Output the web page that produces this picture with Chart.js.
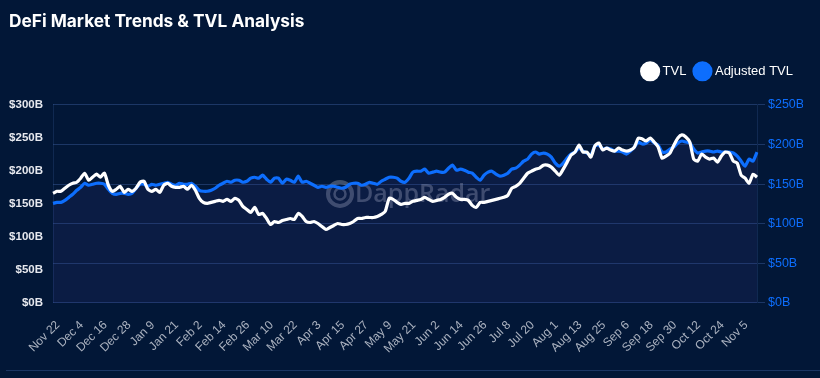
<!DOCTYPE html>
<html>
<head>
<meta charset="utf-8">
<script src="https://cdn.jsdelivr.net/npm/chart.js@4.4.1/dist/chart.umd.min.js"></script>
<style>
  html, body { margin:0; padding:0; background:#021737; }
  #wrap { position:relative; width:820px; height:378px; background:#021737; overflow:hidden; }
  #wrap canvas { position:absolute; left:0; top:0; }
  #rule { position:absolute; left:6px; right:0; top:370px; height:1px; background:#1b3563; }
</style>
</head>
<body>
<div id="wrap">
  <canvas id="tvlChart" width="820" height="378"></canvas>
  <div id="rule"></div>
</div>
<script>
/* Daily samples every 2 days, Nov 22 2022 -> Nov 13 2023 */
const START_DATE = new Date(2022, 10, 22);
const STEP_DAYS = 2;
const LABEL_EVERY = 6; // one tick label per 12 days

// TVL, $B (left axis)
const tvl = [
  166.0,169.0,169.0,173.6,178.2,181.2,182.7,188.8,196.4,185.8,
  190.4,194.9,190.4,196.4,178.2,169.0,172.1,176.6,167.5,172.1,
  169.0,173.6,182.7,184.3,172.1,169.0,172.1,167.5,178.2,181.2,
  176.6,175.1,175.1,176.6,172.1,178.2,170.6,158.4,152.3,150.8,
  152.3,153.8,155.3,153.8,156.8,153.8,158.4,155.3,146.2,141.6,
  137.1,144.7,134.0,135.5,127.9,118.8,123.3,121.8,124.9,126.4,
  127.9,126.4,135.5,131.0,123.3,121.8,123.3,120.3,115.7,111.2,
  114.2,117.3,120.3,118.8,118.8,120.3,123.3,127.9,127.9,129.4,
  129.4,129.4,131.0,134.0,138.6,158.4,156.8,152.3,149.2,150.8,
  150.8,153.8,155.3,156.8,159.9,156.8,153.8,155.3,156.8,159.9,
  164.5,166.0,159.9,156.8,156.8,155.3,147.7,144.7,152.3,152.3,
  153.8,155.3,156.8,158.4,159.9,162.9,173.6,176.6,181.2,188.8,
  196.4,199.5,202.5,204.1,208.6,208.6,205.6,199.5,193.4,202.5,
  213.2,223.9,228.4,239.1,228.4,228.4,220.8,237.6,242.1,231.5,
  234.5,231.5,229.9,234.5,231.5,229.9,231.5,236.0,249.7,248.2,
  245.2,249.7,243.6,236.0,219.3,222.3,226.9,239.1,249.7,254.3,
  251.3,243.6,217.8,214.7,225.4,220.8,217.8,219.3,213.2,222.3,
  228.4,226.9,214.7,211.7,193.4,188.8,181.2,194.9,190.4
];

// Adjusted TVL, $B (right axis)
const adjustedTvl = [
  125.6,126.9,126.9,129.4,133.2,137.1,142.1,145.9,151.0,148.5,
  149.7,151.0,151.0,149.7,143.4,138.3,137.1,138.3,138.3,137.1,
  138.3,144.7,149.7,149.7,147.2,149.7,148.5,149.7,151.0,152.3,
  149.7,148.5,151.0,149.7,149.7,151.0,147.2,142.1,140.9,140.9,
  142.1,144.7,148.5,151.0,153.5,152.3,154.8,154.8,152.3,153.5,
  157.4,158.6,157.4,161.2,156.1,152.3,157.4,157.4,151.0,156.1,
  154.8,152.3,159.9,152.3,153.5,151.0,148.5,145.9,147.2,145.9,
  147.2,147.2,145.9,144.7,145.9,149.7,151.0,151.0,148.5,149.7,
  152.3,151.0,149.7,153.5,156.1,158.6,158.6,157.4,153.5,152.3,
  157.4,165.0,166.2,166.2,168.8,163.7,165.0,166.2,165.0,165.0,
  170.0,173.9,167.5,168.8,167.5,165.0,163.7,158.6,154.8,161.2,
  165.0,166.2,162.4,159.9,161.2,163.7,168.8,170.0,173.9,178.9,
  181.5,187.8,190.4,187.8,189.1,187.8,184.0,176.4,172.6,176.4,
  182.7,187.8,190.4,195.4,191.6,189.1,186.5,198.0,199.2,194.2,
  195.4,194.2,191.6,191.6,190.4,187.8,191.6,196.7,203.0,200.5,
  201.8,205.6,201.8,199.2,190.4,190.4,194.2,196.7,201.8,204.3,
  203.0,201.8,194.2,189.1,190.4,191.6,191.6,190.4,191.6,190.4,
  190.4,190.4,189.1,185.3,178.9,172.6,181.5,178.9,190.4
];

const leftTicks = [0, 50, 100, 150, 200, 250, 300];
const rightTicks = [0, 50, 100, 150, 200, 250];

const MONTHS = ["Jan","Feb","Mar","Apr","May","Jun","Jul","Aug","Sep","Oct","Nov","Dec"];
const dates = tvl.map((_, i) => {
  const d = new Date(START_DATE.getTime());
  d.setDate(d.getDate() + i * STEP_DAYS);
  return MONTHS[d.getMonth()] + " " + d.getDate();
});

const BLUE = "#0d6efd";
const GRID = "rgba(60,95,160,0.45)";

// faint DappRadar mark in the middle of the plot
const watermark = {
  id: "watermark",
  beforeDatasetsDraw(chart){
    const {ctx, chartArea:a} = chart;
    const cx = (a.left + a.right) / 2, cy = a.top + (a.bottom - a.top) * 0.45;
    ctx.save();
    ctx.fillStyle = "rgba(140,150,170,0.45)";
    ctx.strokeStyle = "rgba(140,150,170,0.45)";
    ctx.font = "600 25px 'Open Sans'";
    ctx.textBaseline = "middle";
    ctx.textAlign = "left";
    ctx.fillText("DappRadar", cx - 50, cy + 1);
    ctx.lineWidth = 4;
    ctx.beginPath(); ctx.arc(cx - 65, cy, 12, 0, Math.PI * 2); ctx.stroke();
    ctx.lineWidth = 2.5;
    ctx.beginPath(); ctx.arc(cx - 65, cy, 5.5, 0, Math.PI * 2); ctx.stroke();
    ctx.restore();
  }
};

// extra room under the legend
const legendGap = {
  id: "legendGap",
  beforeInit(chart){
    const fit = chart.legend.fit;
    chart.legend.fit = function(){ fit.call(this); this.height += 17; };
  }
};

Chart.defaults.font.family = "'Liberation Sans', Arial, sans-serif";

new Chart(document.getElementById("tvlChart"), {
  type: "line",
  data: {
    labels: dates,
    datasets: [
      { label: "TVL", data: tvl, yAxisID: "y", borderColor: "#ffffff", backgroundColor: "#ffffff",
        borderWidth: 3.2, tension: 0.2, pointRadius: 0, fill: false },
      { label: "Adjusted TVL", data: adjustedTvl, yAxisID: "y1", borderColor: BLUE, backgroundColor: BLUE,
        borderWidth: 3.2, tension: 0.2, pointRadius: 0,
        fill: { target: "origin", above: "rgba(70,60,150,0.15)" } }
    ]
  },
  options: {
    responsive: false, animation: false,
    layout: { padding: { left: 9, right: 17, top: 8, bottom: 15 } },
    plugins: {
      title: { display: true, text: "DeFi Market Trends & TVL Analysis", align: "start", color: "#ffffff",
        font: { family: "Inter", size: 17.3, weight: "bold" }, padding: { top: 3, bottom: 23 } },
      legend: { position: "top", align: "end",
        labels: { color: "#ffffff", usePointStyle: true, pointStyle: "circle", boxWidth: 12, boxHeight: 12,
          padding: 10, font: { size: 13 } } },
      tooltip: { enabled: false }
    },
    scales: {
      x: {
        grid: { display: false }, border: { display: false },
        afterFit: s => { s.paddingLeft = 0; s.paddingRight = 0; },
        ticks: { autoSkip: false, maxRotation: 45, minRotation: 45, color: "rgba(200,205,215,0.85)",
          font: { size: 12 }, padding: 7, labelOffset: 5,
          callback: function(v, i){ return i % LABEL_EVERY === 0 ? dates[i] : null; } }
      },
      y: {
        position: "left", min: leftTicks[0], max: leftTicks[leftTicks.length - 1],
        afterBuildTicks: s => { s.ticks = leftTicks.map(v => ({ value: v })); },
        afterFit: s => { s.width = 44; },
        grid: { display: false, drawTicks: false }, border: { display: true, color: "rgba(60,95,160,0.25)" },
        ticks: { color: "#e6e8ee", font: { size: 11.5, weight: "bold" }, padding: 10,
          callback: v => "$" + v + "B" }
      },
      y1: {
        position: "right", min: rightTicks[0], max: rightTicks[rightTicks.length - 1],
        afterBuildTicks: s => { s.ticks = rightTicks.map(v => ({ value: v })); },
        afterFit: s => { s.width = 46; },
        grid: { color: GRID, tickLength: 8, drawOnChartArea: true },
        border: { display: true, color: "rgba(60,95,160,0.25)" },
        ticks: { color: BLUE, font: { size: 12.5 }, padding: 3,
          callback: v => "$" + v + "B" }
      }
    }
  },
  plugins: [watermark, legendGap]
});
</script>
</body>
</html>
